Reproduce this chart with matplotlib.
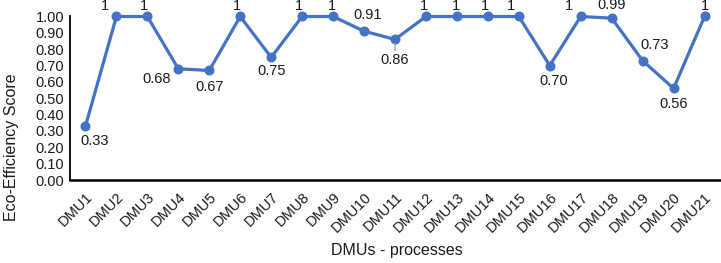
import matplotlib
matplotlib.use("Agg")
import matplotlib.pyplot as plt

categories = [f"DMU{i}" for i in range(1, 22)]
scores = [0.33, 1, 1, 0.68, 0.67, 1, 0.75, 1, 1, 0.91, 0.86, 1, 1, 1, 1, 0.70, 1, 0.99, 0.73, 0.56, 1]
labels = ["0.33", "1", "1", "0.68", "0.67", "1", "0.75", "1", "1", "0.91", "0.86",
          "1", "1", "1", "1", "0.70", "1", "0.99", "0.73", "0.56", "1"]
# label offsets in pixels (dx right, dy down)
offsets_px = [(9.5, 15), (-11, -10.5), (-3, -10.5), (-22, 10), (0, 17), (-3, -10.5),
              (0, 14), (-3, -10.5), (-1, -10.5), (4, -16), (0, 21), (-2, -10.5),
              (-1, -10.5), (-3, -10.5), (-8, -10.5), (4, 15), (-12, -10.5), (0, -13),
              (12, -15.6), (0, 16), (0, -10.5)]
y_ticks = [i / 10 for i in range(11)]

plt.rcParams['font.family'] = ['Liberation Sans', 'DejaVu Sans']

W, H = 721, 263
fig = plt.figure(figsize=(W / 100, H / 100), dpi=100)
ax = fig.add_axes([70 / W, (H - 180) / H, 650 / W, (180 - 16.5) / H])

color = '#4472C4'
x = list(range(len(categories)))
ax.plot(x, scores, color=color, lw=2.3, marker='o', markersize=6.2, solid_joinstyle='round',
        zorder=3, clip_on=False)

px2pt = 0.72
for i, (v, lab, (dx, dy)) in enumerate(zip(scores, labels, offsets_px)):
    kw = {}
    if lab == "0.86":
        kw['arrowprops'] = dict(arrowstyle='-', color='#A6A6A6', lw=1, shrinkA=0, shrinkB=3)
    ax.annotate(lab, (i, v), xytext=(dx * px2pt, -dy * px2pt), textcoords='offset points',
                ha='center', va='center', fontsize=10.5, color='#1a1a1a',
                annotation_clip=False, **kw)

ax.set_xlim(-0.5, len(categories) - 0.5)
ax.set_ylim(0, 1)
ax.set_yticks(y_ticks)
ax.set_yticklabels([f"{t:.2f}" for t in y_ticks], fontsize=10.5)
ax.set_xticks(x)
ax.set_xticklabels(categories, rotation=45, ha='right', rotation_mode='anchor', fontsize=10.5)
ax.tick_params(axis='both', length=0, pad=4, colors='#1a1a1a')
ax.tick_params(axis='x', pad=7)

for s in ['top', 'right']:
    ax.spines[s].set_visible(False)
ax.spines['left'].set_linewidth(1.3)
ax.spines['bottom'].set_linewidth(1.8)
ax.spines['left'].set_color('black')
ax.spines['bottom'].set_color('black')

fig.text(12 / W, 1 - 147 / H, "Eco-Efficiency Score", rotation=90, ha='center', va='center',
         fontsize=11.5, color='#1a1a1a')
fig.text(397 / W, 1 - 251 / H, "DMUs - processes", ha='center', va='center',
         fontsize=11.5, color='#1a1a1a')

fig.savefig("out.png", dpi=100)
